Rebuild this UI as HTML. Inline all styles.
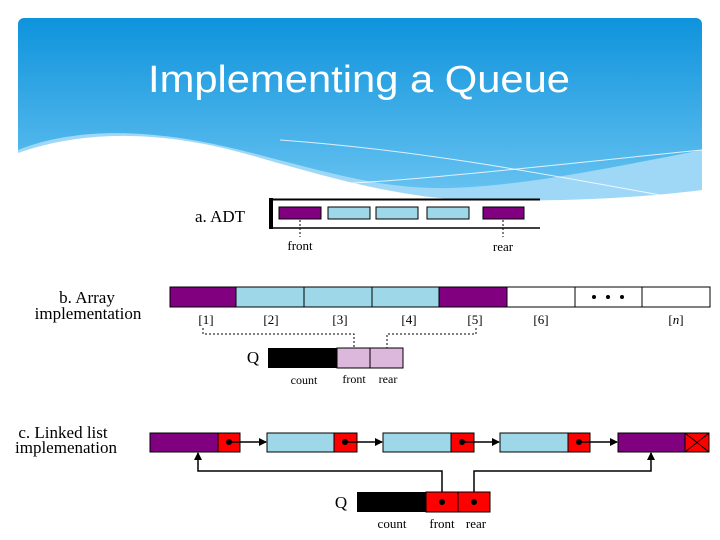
<!DOCTYPE html>
<html><head><meta charset="utf-8"><style>
html,body{margin:0;padding:0;background:#fff;width:720px;height:540px;overflow:hidden}
svg{display:block}
</style></head><body>
<svg width="720" height="540" viewBox="0 0 720 540" xmlns="http://www.w3.org/2000/svg">
<defs>
<linearGradient id="bg" x1="0" y1="0" x2="0" y2="1">
<stop offset="0" stop-color="#0e93dc"/><stop offset="1" stop-color="#6ec6f2"/>
</linearGradient>
<marker id="ah" markerWidth="8" markerHeight="8" refX="7" refY="4" orient="auto" markerUnits="userSpaceOnUse">
<path d="M0,0 L8,4 L0,8 z" fill="#000"/></marker>
</defs>
<rect x="18" y="18" width="684" height="190" rx="6" fill="url(#bg)"/>
<path d="M18,150 C80,125 160,130 240,150 C320,170 380,190 450,188 C520,186 600,170 702,150 L702,210 L18,210 Z" fill="#9fd8f6"/>
<path d="M18,153 C90,128 170,132 250,155 C330,178 400,198 470,200 C560,202 640,198 702,190 L702,210 L18,210Z" fill="#fff"/>
<path d="M230,185 C350,190 500,170 702,150" stroke="#fff" stroke-width="1" fill="none" opacity="0.8"/>
<path d="M280,140 C420,150 550,175 660,195" stroke="#fff" stroke-width="1" fill="none" opacity="0.8"/>
<text x="148" y="92" font-family="Liberation Sans, sans-serif" font-size="38" fill="#fff" textLength="422" lengthAdjust="spacingAndGlyphs">Implementing a Queue</text>

<g font-family="Liberation Serif, serif" fill="#000">
<text x="195" y="222" font-size="17">a. ADT</text>
<rect x="269" y="198" width="4" height="31" fill="#000"/>
<line x1="271" y1="199.5" x2="540" y2="199.5" stroke="#000" stroke-width="2"/>
<line x1="271" y1="228" x2="540" y2="228" stroke="#000" stroke-width="1.5"/>
<g stroke="#000" stroke-width="1">
<rect x="279" y="207" width="42" height="12" fill="#800080"/>
<rect x="328" y="207" width="42" height="12" fill="#9ed8e8"/>
<rect x="376" y="207" width="42" height="12" fill="#9ed8e8"/>
<rect x="427" y="207" width="42" height="12" fill="#9ed8e8"/>
<rect x="483" y="207" width="41" height="12" fill="#800080"/>
</g>
<line x1="300" y1="220" x2="300" y2="237" stroke="#000" stroke-dasharray="2,2"/>
<line x1="503" y1="220" x2="503" y2="237" stroke="#000" stroke-dasharray="2,2"/>
<text x="300" y="250" font-size="13" text-anchor="middle">front</text>
<text x="503" y="251" font-size="13" text-anchor="middle">rear</text>

<text x="87" y="303" font-size="17" text-anchor="middle">b. Array</text>
<text x="88" y="319" font-size="17" text-anchor="middle">implementation</text>
<g stroke="#000" stroke-width="1">
<rect x="170" y="287" width="66" height="20" fill="#800080"/>
<rect x="236" y="287" width="68" height="20" fill="#9ed8e8"/>
<rect x="304" y="287" width="68" height="20" fill="#9ed8e8"/>
<rect x="372" y="287" width="67" height="20" fill="#9ed8e8"/>
<rect x="439" y="287" width="68" height="20" fill="#800080"/>
<rect x="507" y="287" width="68" height="20" fill="#fff"/>
<rect x="575" y="287" width="67" height="20" fill="#fff"/>
<rect x="642" y="287" width="68" height="20" fill="#fff"/>
</g>
<circle cx="594" cy="297" r="2"/><circle cx="608" cy="297" r="2"/><circle cx="622" cy="297" r="2"/>
<g font-size="13" text-anchor="middle">
<text x="206" y="324">[1]</text><text x="271" y="324">[2]</text><text x="340" y="324">[3]</text>
<text x="409" y="324">[4]</text><text x="475" y="324">[5]</text><text x="541" y="324">[6]</text>
<text x="676" y="324">[<tspan font-style="italic">n</tspan>]</text>
</g>
<path d="M203,328 V334 H354 V357" stroke="#000" fill="none" stroke-dasharray="2,2"/>
<path d="M476,328 V334 H387 V357" stroke="#000" fill="none" stroke-dasharray="2,2"/>
<text x="253" y="363" font-size="17" text-anchor="middle">Q</text>
<rect x="268" y="348" width="69" height="20" fill="#000"/>
<rect x="337" y="348" width="33" height="20" fill="#dcb8dc" stroke="#000"/>
<rect x="370" y="348" width="33" height="20" fill="#dcb8dc" stroke="#000"/>
<text x="304" y="384" font-size="12" text-anchor="middle">count</text>
<text x="354" y="383" font-size="12" text-anchor="middle">front</text>
<text x="388" y="383" font-size="12" text-anchor="middle">rear</text>

<text x="63" y="438" font-size="17" text-anchor="middle">c. Linked list</text>
<text x="66" y="453" font-size="17" text-anchor="middle">implemenation</text>
<g stroke="#000" stroke-width="1">
<rect x="150" y="433" width="68" height="19" fill="#800080"/><rect x="218" y="433" width="22" height="19" fill="#f00"/>
<rect x="267" y="433" width="67" height="19" fill="#9ed8e8"/><rect x="334" y="433" width="23" height="19" fill="#f00"/>
<rect x="383" y="433" width="68" height="19" fill="#9ed8e8"/><rect x="451" y="433" width="23" height="19" fill="#f00"/>
<rect x="500" y="433" width="68" height="19" fill="#9ed8e8"/><rect x="568" y="433" width="22" height="19" fill="#f00"/>
<rect x="618" y="433" width="67" height="19" fill="#800080"/><rect x="685" y="433" width="24" height="19" fill="#f00"/>
<path d="M685,433 L709,452 M709,433 L685,452"/>
</g>
<g stroke="#000" stroke-width="1.5" fill="none" marker-end="url(#ah)">
<line x1="229" y1="442" x2="266" y2="442"/>
<line x1="345" y1="442" x2="382" y2="442"/>
<line x1="462" y1="442" x2="499" y2="442"/>
<line x1="579" y1="442" x2="617" y2="442"/>
<path d="M442,502 V471 H198 V453"/>
<path d="M474,502 V471 H651 V453"/>
</g>
<circle cx="229" cy="442" r="3"/><circle cx="345" cy="442" r="3"/><circle cx="462" cy="442" r="3"/><circle cx="579" cy="442" r="3"/>
<text x="341" y="508" font-size="17" text-anchor="middle">Q</text>
<rect x="357" y="492" width="69" height="20" fill="#000"/>
<rect x="426" y="492" width="32" height="20" fill="#f00" stroke="#000"/>
<rect x="458" y="492" width="32" height="20" fill="#f00" stroke="#000"/>
<circle cx="442" cy="502" r="3"/><circle cx="474" cy="502" r="3"/>
<text x="392" y="528" font-size="13" text-anchor="middle">count</text>
<text x="442" y="528" font-size="13" text-anchor="middle">front</text>
<text x="476" y="528" font-size="13" text-anchor="middle">rear</text>
</g>
</svg>
</body></html>
